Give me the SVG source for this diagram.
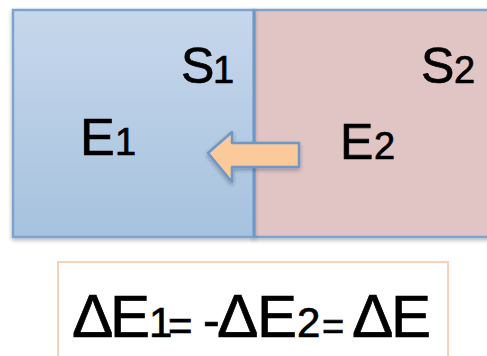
<svg xmlns="http://www.w3.org/2000/svg" width="487" height="356" viewBox="0 0 487 356">
<defs>
<linearGradient id="blueGrad" x1="0" y1="0" x2="0" y2="1">
<stop offset="0" stop-color="#c7d7ec"/>
<stop offset="1" stop-color="#a6c2de"/>
</linearGradient>
<filter id="shadow" x="-10%" y="-10%" width="130%" height="130%">
<feGaussianBlur in="SourceAlpha" stdDeviation="2"/>
<feOffset dx="0" dy="2" result="b"/>
<feComponentTransfer><feFuncA type="linear" slope="0.3"/></feComponentTransfer>
<feMerge><feMergeNode/><feMergeNode in="SourceGraphic"/></feMerge>
</filter>
<style>
.lbl{font-family:"Liberation Sans","Open Sans",sans-serif;fill:#000;stroke:#000;stroke-width:0.7;}
.sys{stroke:#7ea3cf;stroke-width:2.5;}
</style>
</defs>
<rect width="487" height="356" fill="#fff"/>
<g id="system2">
<rect class="sys" x="254" y="10" width="245" height="227" fill="#e1c5c5" filter="url(#shadow)"/>
<text class="lbl" y="83" font-size="50"><tspan x="421">S</tspan><tspan x="454" font-size="38">2</tspan></text>
<text class="lbl" y="159" font-size="50"><tspan x="340">E</tspan><tspan x="374" font-size="38">2</tspan></text>
</g>
<g id="system1">
<rect class="sys" x="13" y="10" width="241" height="227" fill="url(#blueGrad)" filter="url(#shadow)"/>
<line x1="254" y1="10" x2="254" y2="237" stroke="#6e98c8" stroke-width="3"/>
<text class="lbl" y="83" font-size="50"><tspan x="181">S</tspan><tspan x="213" font-size="38">1</tspan></text>
<text class="lbl" y="155" font-size="52"><tspan x="80">E</tspan><tspan x="115" font-size="38">1</tspan></text>
</g>
<g id="connectors">
<polygon points="208,153 232,132 232,143 299,143 299,167 232,167 232,182" fill="#fbc99a" stroke="#6e98c8" stroke-width="2.5" stroke-linejoin="round" filter="url(#shadow)"/>
</g>
<g id="equation">
<rect x="58" y="262" width="390" height="110" fill="#fff" stroke="#f8d2b6" stroke-width="2"/>
<text class="lbl" y="337" font-size="62"><tspan x="72">Δ</tspan><tspan x="110" font-size="60">E</tspan><tspan x="149" font-size="42">1</tspan><tspan x="168" y="340" font-size="42">=</tspan><tspan x="203" y="337" font-size="50">-</tspan><tspan x="217">Δ</tspan><tspan x="257" font-size="60">E</tspan><tspan x="297" font-size="42">2</tspan><tspan x="322" y="340" font-size="38">=</tspan><tspan x="352" y="337">Δ</tspan><tspan x="391" font-size="60">E</tspan></text>
</g>
</svg>
